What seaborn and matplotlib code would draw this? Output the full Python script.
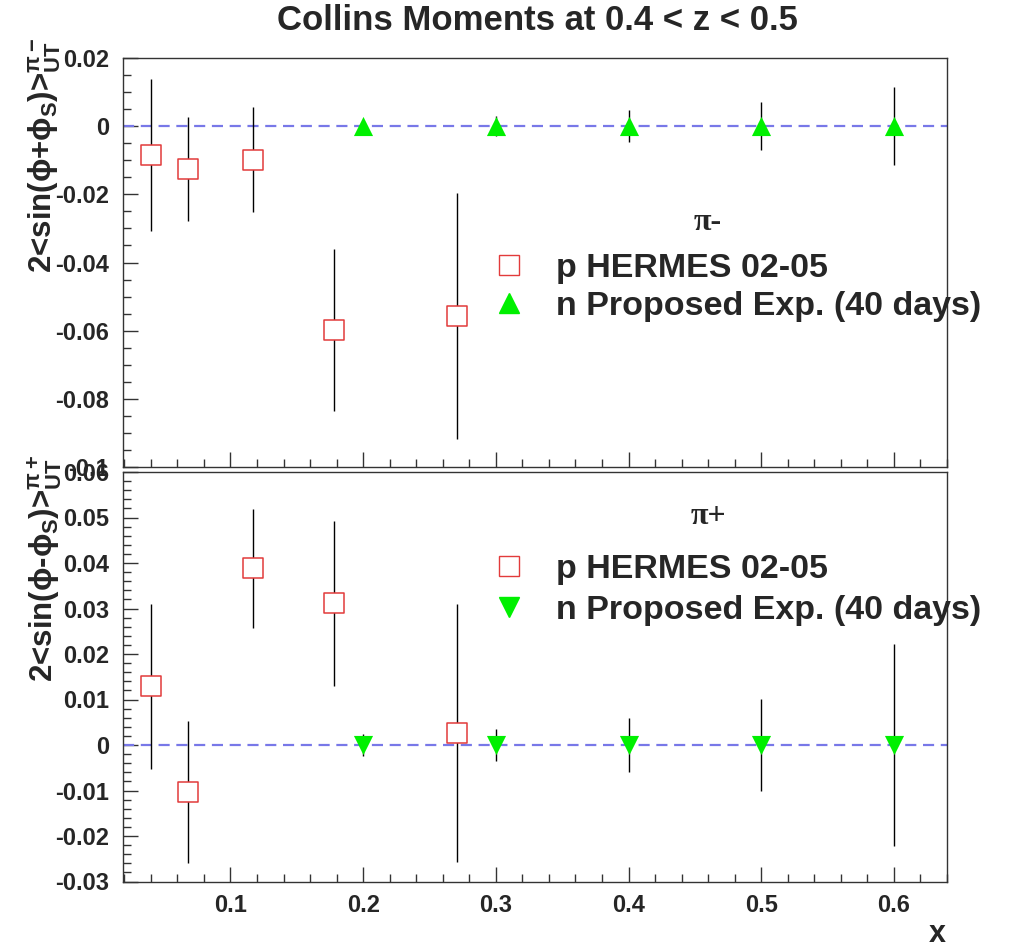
import numpy as np
import pandas as pd
import matplotlib
matplotlib.use("Agg")
import matplotlib.pyplot as plt
from matplotlib.ticker import MultipleLocator
from matplotlib.lines import Line2D
import seaborn as sns

# ---------------- data ----------------
x_hermes = [0.040, 0.068, 0.117, 0.178, 0.271]
pim_hermes = [-0.0085, -0.0126, -0.0098, -0.0598, -0.0557]
pim_hermes_err = [0.0223, 0.0153, 0.0153, 0.0237, 0.0360]
pip_hermes = [0.0129, -0.0103, 0.0388, 0.0311, 0.0026]
pip_hermes_err = [0.0181, 0.0156, 0.0130, 0.0182, 0.0284]

x_prop = [0.2, 0.3, 0.4, 0.5, 0.6]
pim_prop = [0.0, 0.0, 0.0, 0.0, 0.0]
pim_prop_err = [0.0008, 0.0030, 0.0047, 0.0071, 0.0115]
pip_prop = [0.0, 0.0, 0.0, 0.0, 0.0]
pip_prop_err = [0.0024, 0.0035, 0.0059, 0.0101, 0.0222]

top_yticks = [0.02, 0.0, -0.02, -0.04, -0.06, -0.08, -0.1]
top_yticklabels = ["0.02", "0", "-0.02", "-0.04", "-0.06", "-0.08", "-0.1"]
bot_yticks = [0.06, 0.05, 0.04, 0.03, 0.02, 0.01, 0.0, -0.01, -0.02, -0.03]
bot_yticklabels = ["0.06", "0.05", "0.04", "0.03", "0.02", "0.01", "0", "-0.01", "-0.02", "-0.03"]
xticks = [0.1, 0.2, 0.3, 0.4, 0.5, 0.6]
xticklabels = ["0.1", "0.2", "0.3", "0.4", "0.5", "0.6"]

title = "Collins Moments at 0.4 < z < 0.5"
label_hermes = "p HERMES 02-05"
label_prop = "n Proposed Exp. (40 days)"

# ---------------- style ----------------
sns.set_style("ticks")
plt.rcParams["font.family"] = ["Liberation Sans", "DejaVu Sans"]
plt.rcParams["font.weight"] = "bold"
plt.rcParams["mathtext.fontset"] = "custom"
plt.rcParams["mathtext.rm"] = "Liberation Sans:bold"
plt.rcParams["mathtext.it"] = "Liberation Sans:bold"
plt.rcParams["mathtext.bf"] = "Liberation Sans:bold"
plt.rcParams["mathtext.sf"] = "Liberation Sans:bold"
plt.rcParams["mathtext.fallback"] = "stixsans"

W, H = 1014, 948
fig = plt.figure(figsize=(W / 100, H / 100), dpi=100)
fig.patch.set_facecolor("white")

def px_axes(l, t, r, b):
    return fig.add_axes([l / W, 1 - b / H, (r - l) / W, (b - t) / H])

ax1 = px_axes(123, 58, 947, 467)
ax2 = px_axes(123, 472, 947, 881.5)

RED = "#e23b3b"
GREEN = "#00f000"
DASH = "#7878e8"

def draw(ax, yh, eh, yp, ep, marker, ylim, yt, ytl, minor):
    ax.axhline(0, color=DASH, lw=1.6, ls=(0, (5, 3)), zorder=1)
    ax.errorbar(x_hermes, yh, yerr=eh, fmt="none", ecolor="black", elinewidth=1.0, capsize=0, zorder=2)
    ax.errorbar(x_prop, yp, yerr=ep, fmt="none", ecolor="black", elinewidth=1.0, capsize=0, zorder=2)
    dh = pd.DataFrame({"x": x_hermes, "y": yh})
    dp = pd.DataFrame({"x": x_prop, "y": yp})
    sns.scatterplot(data=dh, x="x", y="y", ax=ax, marker="s", s=210, facecolor="white",
                    edgecolor=RED, linewidth=1.1, zorder=3, legend=False)
    sns.scatterplot(data=dp, x="x", y="y", ax=ax, marker=marker, s=190, color=GREEN,
                    edgecolor=GREEN, linewidth=0, zorder=3, legend=False)
    ax.set_xlim(0.019, 0.64)
    ax.set_ylim(*ylim)
    ax.set_yticks(yt)
    ax.set_yticklabels(ytl)
    ax.yaxis.set_minor_locator(MultipleLocator(minor))
    ax.xaxis.set_minor_locator(MultipleLocator(0.02))
    ax.set_xticks(xticks)
    ax.tick_params(axis="both", which="major", direction="in", length=11, width=1, color="#333333",
                   top=False, right=False)
    ax.tick_params(axis="both", which="minor", direction="in", length=6, width=1, color="#333333",
                   top=False, right=False)
    ax.tick_params(axis="y", which="major", labelsize=17, pad=10)
    ax.set_xlabel("")
    ax.set_ylabel("")
    for s in ax.spines.values():
        s.set_visible(True)
        s.set_color("#333333")
        s.set_linewidth(1.0)
    for t in ax.get_yticklabels():
        t.set_fontweight("bold")

draw(ax1, pim_hermes, pim_hermes_err, pim_prop, pim_prop_err, "^",
     (-0.1, 0.02), top_yticks, top_yticklabels, 0.005)
draw(ax2, pip_hermes, pip_hermes_err, pip_prop, pip_prop_err, "v",
     (-0.03, 0.06), bot_yticks, bot_yticklabels, 0.002)

ax1.tick_params(axis="x", labelbottom=False)
ax2.set_xticklabels(xticklabels)
ax2.tick_params(axis="x", which="major", labelsize=17, pad=9)
for t in ax2.get_xticklabels():
    t.set_fontweight("bold")

# legends
def legend(ax, marker, top_px, spacing):
    handles = [
        Line2D([], [], ls="none", marker="s", markersize=15, markerfacecolor="white",
               markeredgecolor=RED, markeredgewidth=1.0, label=label_hermes),
        Line2D([], [], ls="none", marker=marker, markersize=14, markerfacecolor=GREEN,
               markeredgecolor=GREEN, label=label_prop),
    ]
    lg = ax.legend(handles=handles, loc="upper left", bbox_to_anchor=(468 / W, 1 - top_px / H),
                   bbox_transform=fig.transFigure, frameon=False,
                   handletextpad=0.7, labelspacing=spacing, borderpad=0, handlelength=1.4,
                   prop={"weight": "bold", "size": 24.5})
    return lg

legend(ax1, "^", 236, 0.2)
legend(ax2, "v", 537, 0.3)

fig.text(708 / W, 1 - 222 / H, "π-", family=["Liberation Serif", "DejaVu Serif"], fontsize=23,
         ha="center", va="center")
fig.text(708 / W, 1 - 516 / H, "π+", family=["Liberation Serif", "DejaVu Serif"], fontsize=23,
         ha="center", va="center")

# y labels
fig.text(45 / W, 1 - 38 / H, r"2<sin($\phi$+$\phi_{S}$)>$_{UT}^{\pi-}$", rotation=90,
         ha="center", va="top", fontsize=22.5, fontweight="bold")
fig.text(45 / W, 1 - 455 / H, r"2<sin($\phi$-$\phi_{S}$)>$_{UT}^{\pi+}$", rotation=90,
         ha="center", va="top", fontsize=22.5, fontweight="bold")

# title and x label
fig.text(537 / W, 1 - 21 / H, title, ha="center", va="center", fontsize=25, fontweight="bold")
fig.text(937 / W, 1 - 934 / H, "x", ha="center", va="center", fontsize=22, fontweight="bold")

fig.savefig("out.png", dpi=100, facecolor="white")
